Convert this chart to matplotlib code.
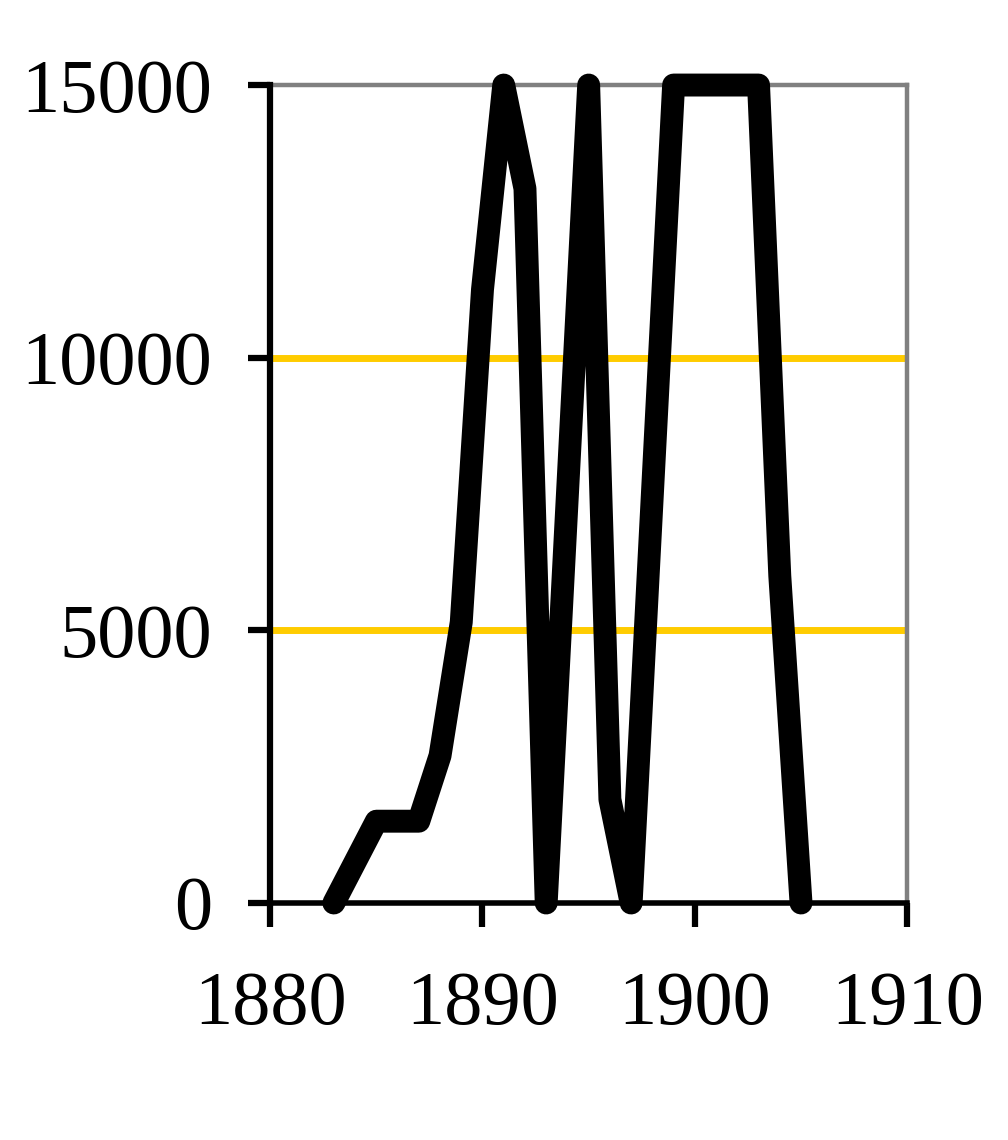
import matplotlib
matplotlib.use("Agg")
import matplotlib.pyplot as plt

# values
years = [1883, 1885, 1887, 1888, 1889, 1890, 1891, 1892, 1893, 1895, 1896, 1897,
         1899, 1900, 1901, 1902, 1903, 1904, 1905]
values = [0, 1500, 1500, 2700, 5150, 11250, 15000, 13100, 0, 15000, 1900, 0,
          15000, 15000, 15000, 15000, 15000, 6000, 0]
xticks = [1880, 1890, 1900, 1910]
yticks = [0, 5000, 10000, 15000]

GOLD = "#FFCC00"
GRAY = "#808080"

plt.rcParams["font.family"] = ["Liberation Serif", "DejaVu Serif"]

fig = plt.figure(figsize=(10.08, 11.40), dpi=100)
ax = fig.add_axes([0.268, 0.2079, 0.632, 0.7175])

for yv in yticks[1:3]:
    ax.axhline(yv, color=GOLD, lw=5, zorder=1)

ax.plot(years, values, color="black", lw=16.5, solid_capstyle="round",
        solid_joinstyle="round", clip_on=False, zorder=3)

ax.set_xlim(1880, 1910)
ax.set_ylim(0, 15000)
ax.set_xticks(xticks)
ax.set_yticks(yticks)
ax.tick_params(axis="x", direction="out", length=17, width=4.5, pad=32,
               labelsize=55)
ax.tick_params(axis="y", direction="out", length=16, width=4.5, pad=26,
               labelsize=55)

ax.spines["left"].set_linewidth(4.5)
ax.spines["bottom"].set_linewidth(4)
ax.spines["left"].set_zorder(4)
ax.spines["bottom"].set_zorder(4)
for s in ("top", "right"):
    ax.spines[s].set_color(GRAY)
    ax.spines[s].set_linewidth(3.2)

fig.savefig("out.png", dpi=100)
